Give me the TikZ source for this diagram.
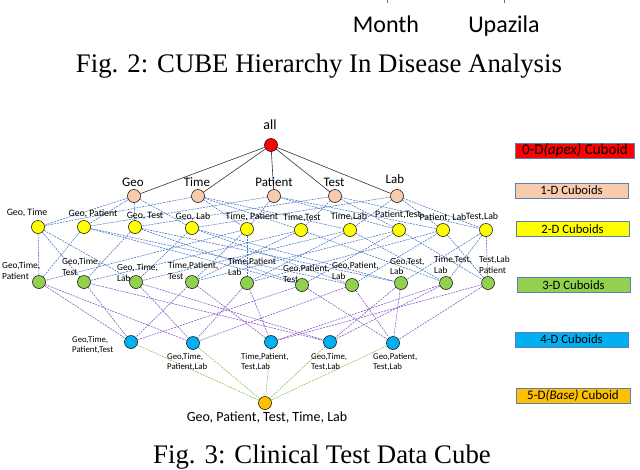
\documentclass[tikz,border=0pt]{standalone}
\usepackage{fontspec}
\setmainfont{Liberation Serif}
\newfontfamily\calfont{Carlito}
\usetikzlibrary{backgrounds}
\definecolor{apexred}{HTML}{FF0000}
\definecolor{peach}{HTML}{F8CBAD}
\definecolor{yel}{HTML}{FFFF00}
\definecolor{grn}{HTML}{92D050}
\definecolor{cyanb}{HTML}{00B0F0}
\definecolor{orng}{HTML}{FFC000}
\definecolor{eblue}{HTML}{4472C4}
\definecolor{epurp}{HTML}{7F4FC0}
\definecolor{egreen}{HTML}{7DBF4E}
\definecolor{boxline}{HTML}{5B7DB8}
\tikzset{
  dot/.style={circle, draw=black, line width=0.5pt, minimum size=13pt, inner sep=0pt},
  lblA/.style={font=\calfont\fontsize{14}{16}\selectfont, inner sep=0pt},
  lblB/.style={font=\calfont\fontsize{13}{15}\selectfont, inner sep=0pt},
  lblC/.style={font=\calfont\fontsize{9.8}{11}\selectfont, inner sep=0pt},
  lblD/.style={font=\calfont\fontsize{9.3}{10.5}\selectfont, inner sep=0pt, align=left, anchor=north west},
  lblE/.style={font=\calfont\fontsize{8.8}{10}\selectfont, inner sep=0pt, align=left, anchor=north west},
  e01/.style={draw=black!80, line width=0.6pt},
  e12/.style={draw=eblue, line width=0.55pt, dash pattern=on 2pt off 1pt},
  e34/.style={draw=epurp, line width=0.55pt, dash pattern=on 2pt off 1pt},
  e45/.style={draw=egreen, line width=0.55pt, dash pattern=on 2pt off 1pt},
  legbox/.style={draw=boxline, line width=0.8pt, minimum width=113pt, minimum height=15pt, inner sep=0pt,
    font=\calfont\fontsize{12.7}{14}\selectfont},
  figcap/.style={font=\fontsize{26.8}{30}\selectfont, inner sep=0pt, anchor=base}
}
\begin{document}
\begin{tikzpicture}[x=1pt,y=-1pt]
\useasboundingbox (0,0) rectangle (640,469);

% top remnants
\coordinate (m1a) at (387,-1); \coordinate (m1b) at (387,3);
\coordinate (m2a) at (504,-1); \coordinate (m2b) at (504,3);
\draw[eblue, line width=1pt] (m1a) -- (m1b);
\draw[eblue, line width=1pt] (m2a) -- (m2b);
\node[font=\calfont\fontsize{24}{28}\selectfont, inner sep=0pt, anchor=base] (month) at (386,32) {Month};
\node[font=\calfont\fontsize{24}{28}\selectfont, inner sep=0pt, anchor=base] (upaz) at (504,32) {Upazila};
\node[figcap] (fig2) at (319,72) {Fig. 2: CUBE Hierarchy In Disease Analysis};

% apex
\node[dot, fill=apexred] (a) at (271,145) {};
\node[lblA] (la) at (270,125) {all};

% 1-D
\node[dot, fill=peach] (G) at (134,196) {};
\node[dot, fill=peach] (T) at (198,196) {};
\node[dot, fill=peach] (P) at (274,196) {};
\node[dot, fill=peach] (E) at (335,196) {};
\node[dot, fill=peach] (L) at (397,196) {};
\node[lblB] (lG) at (133,182) {Geo};
\node[lblB] (lT) at (197,182) {Time};
\node[lblB] (lP) at (274,182) {Patient};
\node[lblB] (lE) at (334,182) {Test};
\node[lblB] (lL) at (395,179) {Lab};

% 2-D
\node[dot, fill=yel] (GT) at (38,227) {};
\node[dot, fill=yel] (GP) at (84,227) {};
\node[dot, fill=yel] (GE) at (135,227) {};
\node[dot, fill=yel] (GL) at (192,228) {};
\node[dot, fill=yel] (TP) at (247,229) {};
\node[dot, fill=yel] (TE) at (301,230) {};
\node[dot, fill=yel] (TL) at (350,230) {};
\node[dot, fill=yel] (PE) at (399,230) {};
\node[dot, fill=yel] (PL) at (443,230) {};
\node[dot, fill=yel] (EL) at (486,230) {};
\node[lblC] (lGT) at (27,213) {Geo, Time};
\node[lblC] (lGP) at (93,214) {Geo, Patient};
\node[lblC] (lGE) at (145,216) {Geo, Test};
\node[lblC] (lGL) at (193,217) {Geo, Lab};
\node[lblC] (lTP) at (252,217) {Time, Patient};
\node[lblC] (lTE) at (302,218) {Time,Test};
\node[lblC] (lTL) at (349,217) {Time,Lab};
\node[lblC] (lPE) at (398,215) {Patient,Test};
\node[lblC] (lPL) at (443,218) {Patient, Lab};
\node[lblC] (lEL) at (482,217) {Test,Lab};

% 3-D
\node[dot, fill=grn] (GTP) at (39,282) {};
\node[dot, fill=grn] (GTE) at (84,282) {};
\node[dot, fill=grn] (GTL) at (136,282) {};
\node[dot, fill=grn] (TPE) at (192,282) {};
\node[dot, fill=grn] (TPL) at (247,283) {};
\node[dot, fill=grn] (GPE) at (302,285) {};
\node[dot, fill=grn] (GPL) at (352,285) {};
\node[dot, fill=grn] (GEL) at (401,283) {};
\node[dot, fill=grn] (TEL) at (446,283) {};
\node[dot, fill=grn] (PEL) at (488,283) {};
\node[lblD] (lGTP) at (2,262) {Geo,Time,\\Patient};
\node[lblD] (lGTE) at (62,258) {Geo,Time,\\Test};
\node[lblD] (lGTL) at (117,264) {Geo, Time,\\Lab};
\node[lblD] (lTPE) at (168,262) {Time,Patient,\\Test};
\node[lblD] (lTPL) at (228,258) {Time,Patient\\Lab};
\node[lblD] (lGPE) at (283,265) {Geo,Patient,\\Test};
\node[lblD] (lGPL) at (332,262) {Geo,Patient,\\Lab};
\node[lblD] (lGEL) at (390,258) {Geo,Test,\\Lab};
\node[lblD] (lTEL) at (434,256) {Time,Test,\\Lab};
\node[lblD] (lPEL) at (479,256) {Test,Lab\\Patient};

% 4-D
\node[dot, fill=cyanb] (GTPE) at (131,342) {};
\node[dot, fill=cyanb] (GTPL) at (193,343) {};
\node[dot, fill=cyanb] (TPEL) at (271,342) {};
\node[dot, fill=cyanb] (GTEL) at (330,342) {};
\node[dot, fill=cyanb] (GPEL) at (393,343) {};
\node[lblE] (lGTPE) at (72,336) {Geo,Time,\\Patient,Test};
\node[lblE] (lGTPL) at (167,353) {Geo,Time,\\Patient,Lab};
\node[lblE] (lTPEL) at (241,353) {Time,Patient,\\Test,Lab};
\node[lblE] (lGTEL) at (311,353) {Geo,Time,\\Test,Lab};
\node[lblE] (lGPEL) at (373,353) {Geo,Patient,\\Test,Lab};

% 5-D
\node[dot, fill=orng] (base) at (265,403) {};
\node[font=\calfont\fontsize{14}{16}\selectfont, inner sep=0pt] (lbase) at (267,418) {Geo, Patient, Test, Time, Lab};

% edges
\begin{pgfonlayer}{background}
\foreach \u in {G,T,P,E,L} \draw[e01] (a) -- (\u);
\foreach \u/\v in {G/GT,T/GT,G/GP,P/GP,G/GE,E/GE,G/GL,L/GL,T/TP,P/TP,T/TE,E/TE,T/TL,L/TL,P/PE,E/PE,P/PL,L/PL,E/EL,L/EL}
  \draw[e12] (\u) -- (\v);
\foreach \u/\v in {GT/GTP,GP/GTP,TP/GTP,GT/GTE,GE/GTE,TE/GTE,GT/GTL,GL/GTL,TL/GTL,TP/TPE,TE/TPE,PE/TPE,
  TP/TPL,TL/TPL,PL/TPL,GP/GPE,GE/GPE,PE/GPE,GP/GPL,GL/GPL,PL/GPL,GE/GEL,GL/GEL,EL/GEL,
  TE/TEL,TL/TEL,EL/TEL,PE/PEL,PL/PEL,EL/PEL}
  \draw[e12] (\u) -- (\v);
\foreach \u/\v in {GTP/GTPE,GTE/GTPE,TPE/GTPE,GPE/GTPE,GTP/GTPL,GTL/GTPL,TPL/GTPL,GPL/GTPL,
  TPE/TPEL,TPL/TPEL,TEL/TPEL,PEL/TPEL,GTE/GTEL,GTL/GTEL,GEL/GTEL,TEL/GTEL,
  GPE/GPEL,GPL/GPEL,GEL/GPEL,PEL/GPEL}
  \draw[e34] (\u) -- (\v);
\foreach \u in {GTPE,GTPL,TPEL,GTEL,GPEL} \draw[e45] (\u) -- (base);
\end{pgfonlayer}

% legend
\node[legbox, fill=apexred, minimum width=119pt, font=\calfont\fontsize{15}{16}\selectfont] (k0) at (575,150.5) {0-D\textit{(apex)} Cuboid};
\node[legbox, fill=peach] (k1) at (571.5,190.5) {1-D Cuboids};
\node[legbox, fill=yel] (k2) at (572.5,229) {2-D Cuboids};
\node[legbox, fill=grn] (k3) at (573.5,285) {3-D Cuboids};
\node[legbox, fill=cyanb] (k4) at (571.5,339.5) {4-D Cuboids};
\node[legbox, fill=orng, minimum width=114pt, font=\calfont\fontsize{13}{14}\selectfont] (k5) at (573,395.5) {5-D\textit{(Base)} Cuboid};

\node[figcap] (fig3) at (322,463) {Fig. 3: Clinical Test Data Cube};
\end{tikzpicture}
\end{document}
